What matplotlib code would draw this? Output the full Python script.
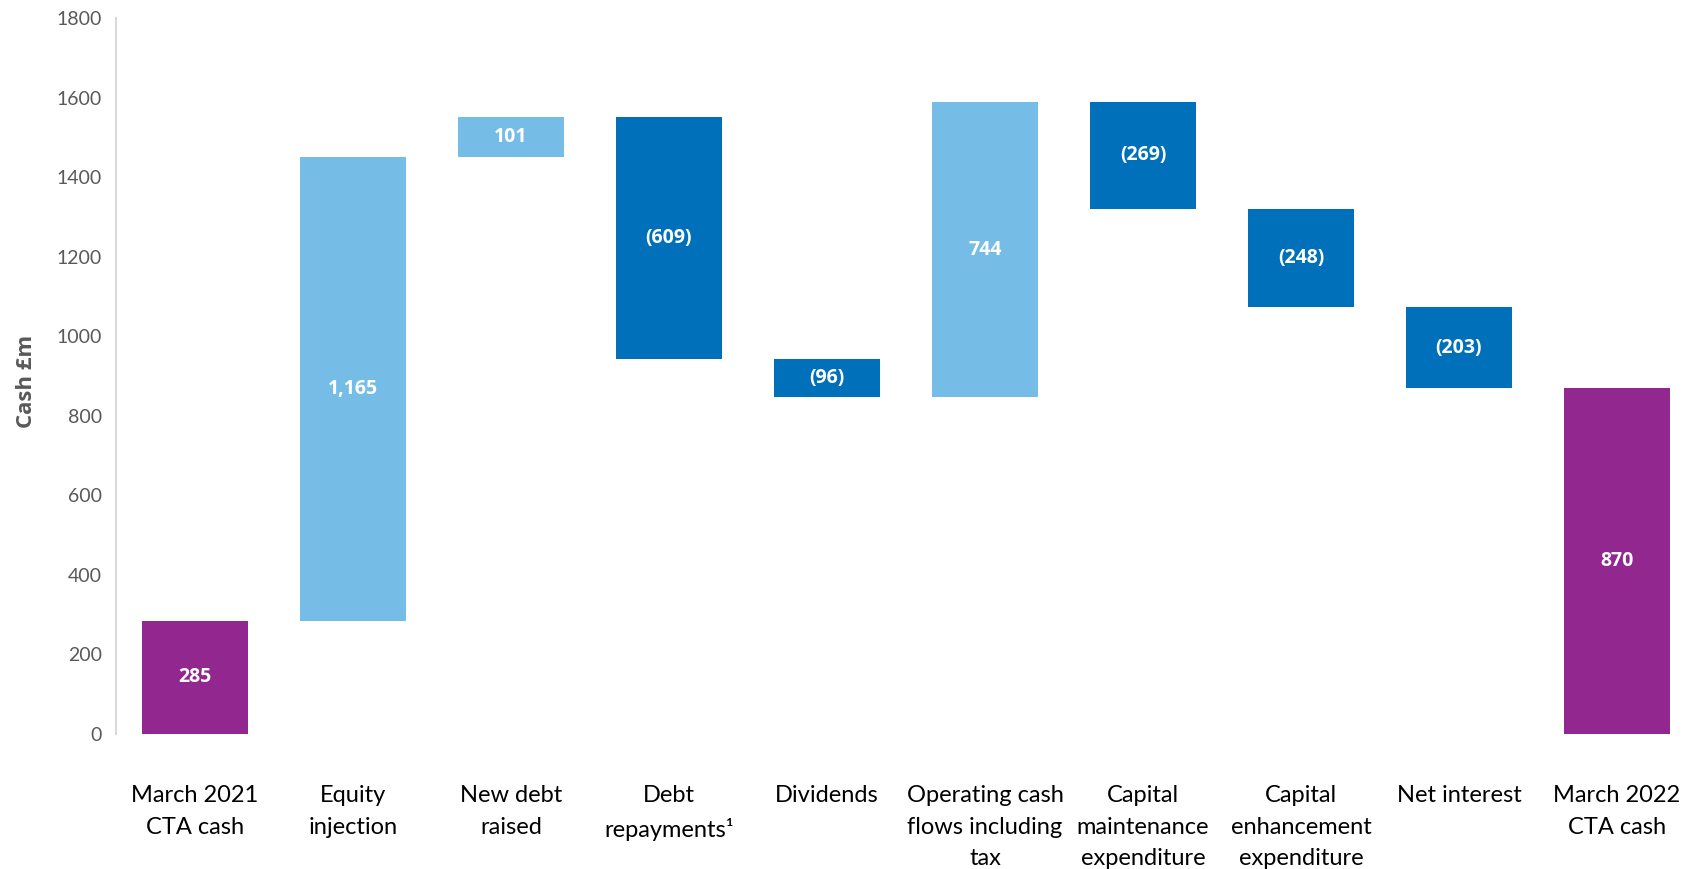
import matplotlib.pyplot as plt

plt.rcParams['font.family'] = ['Lato', 'DejaVu Sans']

# cash bridge, £m
categories = ['March 2021\nCTA cash', 'Equity\ninjection', 'New debt\nraised',
              'Debt\nrepayments\u00b9', 'Dividends', 'Operating cash\nflows including\ntax',
              'Capital\nmaintenance\nexpenditure', 'Capital\nenhancement\nexpenditure',
              'Net interest', 'March 2022\nCTA cash']
movements = [285, 1165, 101, -609, -96, 744, -269, -248, -203, 870]
kinds = ['total', 'up', 'up', 'down', 'down', 'up', 'down', 'down', 'down', 'total']
labels = ['285', '1,165', '101', '(609)', '(96)', '744', '(269)', '(248)', '(203)', '870']

colours = {'total': '#92278F', 'up': '#75BDE7', 'down': '#0070BA'}

W, H = 1683, 869
fig = plt.figure(figsize=(W / 100, H / 100), dpi=100)
ax = fig.add_axes([116 / W, (H - 734) / H, (1696 - 116) / W, (734 - 18) / H])

running = 0
for i, (m, k, lab) in enumerate(zip(movements, kinds, labels)):
    if k == 'total':
        bottom, height = 0, m
        running = m
    elif m >= 0:
        bottom, height = running, m
        running += m
    else:
        bottom, height = running + m, -m
        running += m
    ax.bar(i, height, bottom=bottom, width=0.665, color=colours[k], zorder=2)
    ax.text(i, bottom + height / 2, lab, ha='center', va='center',
            color='white', fontsize=14, fontweight='bold', family='Open Sans')

ax.set_xlim(-0.5, 9.5)
ax.set_ylim(0, 1800)
ax.set_yticks(range(0, 1801, 200))
ax.set_xticks(range(len(categories)))
ax.set_xticklabels(categories, fontsize=17, color='black', linespacing=1.62, va='top')
ax.tick_params(axis='x', length=0, pad=37)
ax.tick_params(axis='y', length=0, pad=10, labelsize=14, labelcolor='#595959')

for s in ['top', 'right', 'bottom']:
    ax.spines[s].set_visible(False)
ax.spines['left'].set_color('#D9D9D9')
ax.spines['left'].set_linewidth(1.5)

fig.text(27 / W, 1 - 381 / H, 'Cash £m', rotation=90, ha='center', va='center',
         fontsize=16, fontweight='bold', color='#595959', family='Open Sans')

fig.savefig('out.png', dpi=100)
